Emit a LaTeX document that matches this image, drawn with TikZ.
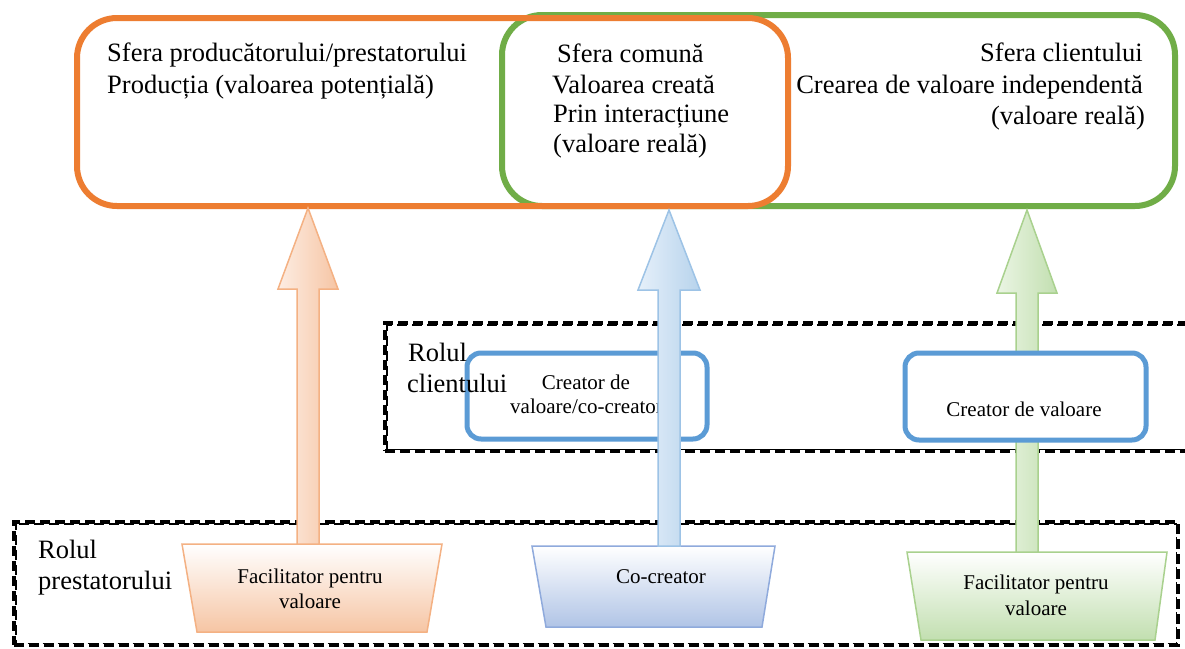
\documentclass[tikz,border=0pt]{standalone}
\usepackage{fontspec}
\setmainfont{Liberation Serif}
\usetikzlibrary{calc}
\definecolor{orfr}{HTML}{ED7D31}
\definecolor{grfr}{HTML}{70AD47}
\definecolor{blfr}{HTML}{5B9BD5}
\definecolor{orln}{HTML}{F4B183}
\definecolor{orfl}{HTML}{F6C5A4}
\definecolor{orlt}{HTML}{FDEDE3}
\definecolor{orsh}{HTML}{C4A08A}
\definecolor{blln}{HTML}{9DC3E6}
\definecolor{blfl}{HTML}{B7D3EC}
\definecolor{bllt}{HTML}{E6F0FA}
\definecolor{blsh}{HTML}{8E9FB5}
\definecolor{grln}{HTML}{A9D18E}
\definecolor{grfl}{HTML}{C2DFB0}
\definecolor{grlt}{HTML}{EBF5E4}
\definecolor{grsh}{HTML}{9AA890}
\definecolor{tbln}{HTML}{8FAADC}
\definecolor{tbfl}{HTML}{B0C4E6}
% block arrow: #1 tip, #2 bottom, #3 head length, #4 head half width, #5 style, #6 shadow colour
\newcommand{\blockarrow}[6]{%
  \fill[#6, shift={(0,4)}] (#1) -- ($(#1)+(#4,#3)$) -- ($(#1)+(11,#3)$) -- ($(#2)+(11,0)$)
    -- ($(#2)+(-11,0)$) -- ($(#1)+(-11,#3)$) -- ($(#1)+(-#4,#3)$) -- cycle;
  \path[#5] (#1) -- ($(#1)+(#4,#3)$) -- ($(#1)+(11,#3)$) -- ($(#2)+(11,0)$)
    -- ($(#2)+(-11,0)$) -- ($(#1)+(-11,#3)$) -- ($(#1)+(-#4,#3)$) -- cycle;}
% trapezoid: #1 top-left, #2 top-right, #3 bottom-right, #4 bottom-left, #5 style, #6 shadow colour
\newcommand{\trapbox}[6]{%
  \fill[#6, shift={(3,3)}] (#1) -- (#2) -- (#3) -- (#4) -- cycle;
  \path[#5] (#1) -- (#2) -- (#3) -- (#4) -- cycle;}
\tikzset{
  bigtxt/.style={font=\fontsize{26.5}{30}\selectfont, inner sep=0pt},
  smtxt/.style={font=\fontsize{21}{25}\selectfont, inner sep=0pt},
  sphere/.style={draw=#1, line width=6pt, rounded corners=40pt, inner sep=0pt},
  rolebox/.style={draw=blfr, line width=5pt, rounded corners=14pt, fill=white, inner sep=0pt},
  dashthick/.style={draw=black, line width=3.2pt, dash pattern=on 10pt off 5pt, inner sep=0pt},
  dashthin/.style={draw=black, line width=1.2pt, dash pattern=on 10pt off 5pt, dash phase=4pt},
  arrA/.style={draw=orln, line width=1.5pt, left color=orlt, right color=orfl},
  arrB/.style={draw=blln, line width=1.5pt, left color=bllt, right color=blfl},
  arrC/.style={draw=grln, line width=1.5pt, left color=grlt, right color=grfl},
  trA/.style={draw=orln, line width=1.5pt, top color=white, bottom color=orfl},
  trB/.style={draw=tbln, line width=1.5pt, top color=white, bottom color=tbfl},
  trC/.style={draw=grln, line width=1.5pt, top color=white, bottom color=grfl},
}
\begin{document}
\begin{tikzpicture}[x=1pt,y=-1pt]
\useasboundingbox (0,0) rectangle (1185,648);
\fill[white] (0,0) rectangle (1185,648);

% spheres
\node[sphere=grfr, minimum width=673, minimum height=191] (grbox) at (838.5,110.5) {};
\node[sphere=orfr, minimum width=711, minimum height=188] (orbox) at (432.5,112) {};

\node[bigtxt, anchor=base west] (o1) at (107,61) {Sfera producătorului/prestatorului};
\node[bigtxt, anchor=base west] (o2) at (107,93) {Producția (valoarea potențială)};

\node[bigtxt, anchor=base west] (m1) at (557,62) {Sfera comună};
\node[bigtxt, anchor=base west] (m2) at (552,93) {Valoarea creată};
\node[bigtxt, anchor=base west] (m3) at (553,122) {Prin interacțiune};
\node[bigtxt, anchor=base west] (m4) at (553,152) {(valoare reală)};

\node[bigtxt, anchor=base east] (g1) at (1143,61) {Sfera clientului};
\node[bigtxt, anchor=base east] (g2) at (1143,93) {Crearea de valoare independentă};
\node[bigtxt, anchor=base east] (g3) at (1145,124) {(valoare reală)};

% role frames
\node[dashthick, minimum width=810, minimum height=128] (clrole) at (790,387) {};
\draw[dashthin] ($(clrole.north west)+(3.5,3.5)$) rectangle ($(clrole.south east)+(-3.5,-3.5)$);
\node[dashthick, minimum width=1164, minimum height=123] (prrole) at (596,583.5) {};
\draw[dashthin] ($(prrole.north west)+(3.5,3.5)$) rectangle ($(prrole.south east)+(-3.5,-3.5)$);

% client role box 1
\node[rolebox, minimum width=240, minimum height=86] (cbox1) at (587,396) {};
\node[smtxt, anchor=base] (cb1a) at (586,389) {Creator de};
\node[smtxt, anchor=base west] (cb1b) at (510,413) {valoare/co-creator};

\node[bigtxt, anchor=base west] (cl1) at (408,361) {Rolul};
\node[bigtxt, anchor=base west] (cl2) at (407,392) {clientului};
\node[bigtxt, anchor=base west] (pr1) at (38,558) {Rolul};
\node[bigtxt, anchor=base west] (pr2) at (38,589) {prestatorului};

% provider trapezoids
\coordinate (aTL) at (182,544); \coordinate (aTR) at (442,544);
\coordinate (aBR) at (427,632); \coordinate (aBL) at (197,632);
\trapbox{aTL}{aTR}{aBR}{aBL}{trA}{orsh}
\node[smtxt, anchor=base] (ta1) at (310,583) {Facilitator pentru};
\node[smtxt, anchor=base] (ta2) at (310,608) {valoare};

\coordinate (bTL) at (532,546); \coordinate (bTR) at (775,546);
\coordinate (bBR) at (762,627); \coordinate (bBL) at (546,627);
\trapbox{bTL}{bTR}{bBR}{bBL}{trB}{blsh}
\node[smtxt, anchor=base] (tb1) at (661,583) {Co-creator};

\coordinate (cTL) at (907,552); \coordinate (cTR) at (1167,552);
\coordinate (cBR) at (1155,640); \coordinate (cBL) at (921,640);
\trapbox{cTL}{cTR}{cBR}{cBL}{trC}{grsh}
\node[smtxt, anchor=base] (tc1) at (1036,589) {Facilitator pentru};
\node[smtxt, anchor=base] (tc2) at (1036,615) {valoare};

% block arrows
\coordinate (tipA) at (308,208);
\coordinate (botA) at (308,544);
\coordinate (tipB) at (669,210);
\coordinate (botB) at (669,546);
\coordinate (tipC) at (1027,210);
\coordinate (botC) at (1027,552);
\blockarrow{tipA}{botA}{81}{30}{arrA}{orsh}
\blockarrow{tipB}{botB}{80}{31}{arrB}{blsh}
\blockarrow{tipC}{botC}{83}{30}{arrC}{grsh}

% client role box 2 (over the green arrow)
\node[rolebox, minimum width=241, minimum height=87] (cbox2) at (1025.5,396.5) {};
\node[smtxt, anchor=base] (cb2) at (1024,416) {Creator de valoare};
\end{tikzpicture}
\end{document}
